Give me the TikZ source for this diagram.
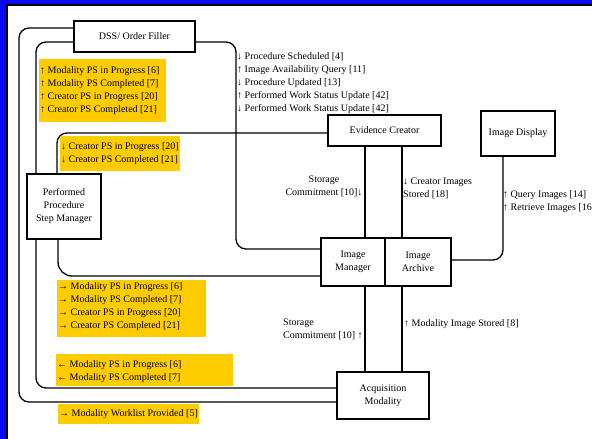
\documentclass[tikz,border=0pt]{standalone}
\usepackage{fontspec}
\setmainfont{Liberation Serif}
\usetikzlibrary{positioning, backgrounds}
\definecolor{amber}{HTML}{FFCC00}
\definecolor{frameblue}{HTML}{0A0AF0}
\begin{document}
\begin{tikzpicture}[x=1pt, y=-1pt, font=\fontsize{10}{13}\selectfont,
    main/.style = {draw, line width=2pt, fill=white, align=center, inner sep=0pt, outer sep=0pt},
    note/.style 2 args = {fill=amber, anchor=north west, inner sep=0pt, minimum width=#1, minimum height=#2},
    lab/.style = {align=left, inner sep=0pt},
    link/.style = {line width=1.3pt, rounded corners=10pt}]
    \useasboundingbox (0,0) rectangle (592,439);
    \node[main, minimum width=121pt, minimum height=31pt] (dss) at (134.5,36.5) {DSS/ Order Filler};
    \node[main, minimum width=113pt, minimum height=31pt] (ec) at (384.5,130.5) {Evidence Creator};
    \node[main, minimum width=74pt, minimum height=45pt] (disp) at (518,133.5) {Image Display};
    \node[main, minimum width=74pt, minimum height=65pt] (ppsm) at (64,206.5) {Performed\\Procedure\\Step Manager};
    \node[main, minimum width=64pt, minimum height=48pt] (mgr) at (353,262) {Image\\Manager};
    \node[main, minimum width=66pt, minimum height=48pt, right=0pt of mgr] (arch) {Image\\Archive};
    \node[main, minimum width=92pt, minimum height=47pt] (acq) at (383,395.5) {Acquisition\\Modality};
    \begin{scope}[on background layer]
    \fill[frameblue] (0,0) rectangle (592,439);
    \fill[white] (7,5) rectangle (592,439);
    \draw[line width=2pt] (7,439) -- (7,5) -- (592,5);
    \draw[link] (dss.west |- 0,28) -| (19,402) -- (acq.west |- 0,402);
    \draw[link] (dss.west |- 0,42) -| (36,388) -- (acq.west |- 0,388);
    \draw[link] (dss.east |- 0,42) -| (236,249) -- (mgr.west |- 0,249);
    \draw[link] (ec.west |- 0,133) -| (ppsm.north -| 57,0);
    \draw[link, rounded corners=14pt] (ppsm.south -| 58,0) |- (mgr.west |- 0,276);
    \draw[link] (disp.south -| 503,0) |- (arch.east |- 0,260);
    \foreach \x/\n in {365/mgr, 402/arch} {
        \draw[link] (ec.south -| \x,0) -- (\n.north -| \x,0);
        \draw[link] (\n.south -| \x,0) -- (acq.north -| \x,0);
    }
    \end{scope}
    \node[note={127pt}{63pt}, label={[lab, anchor=west, xshift=1pt]west:↑ Modality PS in Progress [6]\\↑ Modality PS Completed [7]\\↑ Creator PS in Progress [20]\\↑ Creator PS Completed [21]}] (up1) at (39,59) {};
    \node[note={120pt}{35pt}, label={[lab, anchor=west, xshift=1pt]west:↓ Creator PS in Progress [20]\\↓ Creator PS Completed [21]}] (down1) at (60,136) {};
    \node[note={149pt}{57pt}, label={[lab, anchor=west, xshift=1pt, yshift=2pt]west:→ Modality PS in Progress [6]\\→ Modality PS Completed [7]\\→ Creator PS in Progress [20]\\→ Creator PS Completed [21]}] (right1) at (57,280) {};
    \node[note={177pt}{32pt}, label={[lab, anchor=west, xshift=1pt, yshift=-1pt]west:← Modality PS in Progress [6]\\← Modality PS Completed [7]}] (left1) at (56,354) {};
    \node[note={141pt}{20pt}, label={[lab, anchor=west, xshift=1pt]west:→ Modality Worklist Provided [5]}] (right2) at (58,404) {};
    \node[lab, anchor=north west] (dsslab) at (237,52.5) {↓ Procedure Scheduled [4]\\↑ Image Availability Query [11]\\↓ Procedure Updated [13]\\↑ Performed Work Status Update [42]\\↓ Performed Work Status Update [42]};
    \node[lab, align=center] (sc1) at (324,186.5) {Storage\\Commitment [10]↓};
    \node[lab, anchor=west] (cis) at (403,188.5) {↓ Creator Images\\Stored [18]};
    \node[lab, anchor=west] (qr) at (503,201.5) {↑ Query Images [14]\\↑ Retrieve Images [16]};
    \node[lab, anchor=west] (sc2) at (283,329) {Storage\\Commitment [10] ↑};
    \node[lab, anchor=west] (mis) at (404,324) {↑ Modality Image Stored [8]};
\end{tikzpicture}
\end{document}
